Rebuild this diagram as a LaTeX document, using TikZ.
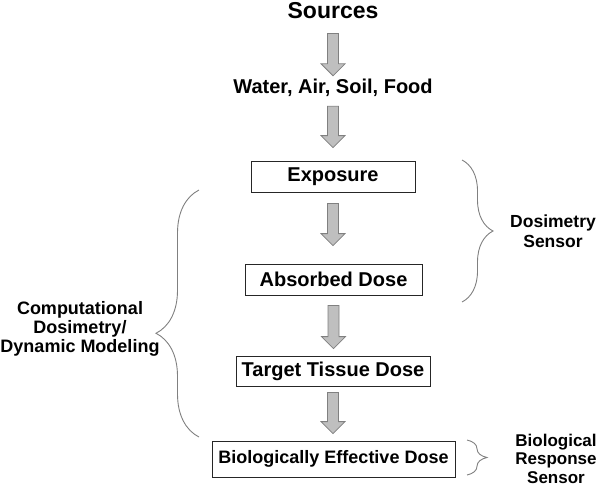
\documentclass[tikz,border=0pt]{standalone}
\usepackage{fontspec}
\setmainfont{Liberation Sans}
\usetikzlibrary{calc,decorations.pathreplacing}

% block arrow from the bottom of one node to the top of the next
\newcommand{\fatarrow}[4]{%
  \draw[fatarr] let \p1=(#1.south), \p2=(#2.north) in
    (\x1-5.5pt,\y1-#3) -- (\x1+5.5pt,\y1-#3) -- (\x1+5.5pt,\y2+#4+12pt)
    -- (\x1+12pt,\y2+#4+12pt) -- (\x1,\y2+#4) -- (\x1-12pt,\y2+#4+12pt)
    -- (\x1-5.5pt,\y2+#4+12pt) -- cycle;}

\begin{document}
\begin{tikzpicture}[x=1pt, y=-1pt,
    lbl/.style={font=\bfseries\fontsize{20}{24}\selectfont, inner sep=0pt},
    stage/.style={draw=black!85, line width=0.8pt, minimum height=31pt, inner sep=0pt,
        font=\bfseries\fontsize{20}{24}\selectfont},
    fatarr/.style={fill=black!25, draw=black!50, line width=0.8pt},
    curly/.style={draw=black!50, line width=0.9pt, decorate, decoration={brace, amplitude=#1}},
    side/.style={font=\bfseries\fontsize{17.5}{19.5}\selectfont, align=center, inner sep=0pt}]

    \useasboundingbox (0,0) rectangle (601,491);

    \node[lbl, font=\bfseries\fontsize{23}{26}\selectfont, anchor=base] (src) at (333,18) {Sources};
    \node[lbl, anchor=base] (media) at (333,93) {Water, Air, Soil, Food};
    \node[stage, minimum width=164pt] (expo) at (333,176.5) {Exposure};
    \node[stage, minimum width=177pt] (absd) at (333.5,279.5) {Absorbed Dose};
    \node[stage, minimum width=194pt, minimum height=30pt] (ttd) at (333,371) {Target Tissue Dose};
    \node[stage, minimum width=243pt, minimum height=36pt,
        font=\bfseries\fontsize{18}{22}\selectfont] (bed) at (333.5,459) {Biologically Effective Dose};

    \fatarrow{src}{media}{15pt}{2.5pt}
    \fatarrow{media}{expo}{10pt}{13pt}
    \fatarrow{expo}{absd}{11pt}{18pt}
    \fatarrow{absd}{ttd}{10pt}{7pt}
    \fatarrow{ttd}{bed}{6pt}{7pt}

    % braces
    \coordinate (dtop) at (462,160);
    \coordinate (dbot) at (462,302);
    \coordinate (ctop) at (199,190);
    \coordinate (cbot) at (199,437);
    \coordinate (btop) at (467,440);
    \coordinate (bbot) at (467,475);

    \draw[curly=31pt] (dtop) -- (dbot);
    \draw[curly=43pt, decoration={aspect=0.42}] (cbot) -- (ctop);
    \draw[curly=20pt] (btop) -- (bbot);

    \node[side] (dsens) at (553,231) {Dosimetry\\Sensor};
    \node[side, font=\bfseries\fontsize{18}{19}\selectfont] (comp) at (80,329)
        {Computational\\Dosimetry/\\Dynamic Modeling};
    \node[side, font=\bfseries\fontsize{17}{18.5}\selectfont] (brs) at (556,458.5)
        {Biological\\Response\\Sensor};
\end{tikzpicture}
\end{document}
